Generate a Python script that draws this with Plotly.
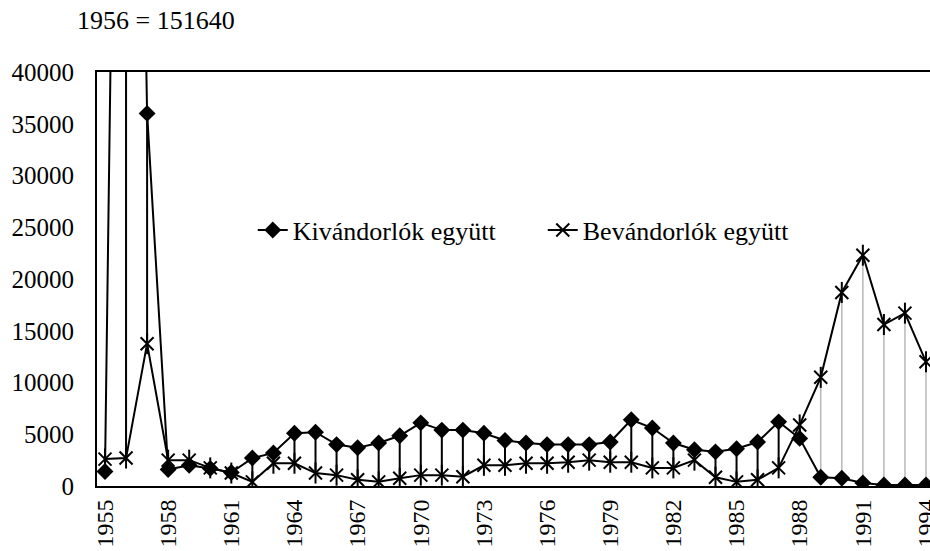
import plotly.graph_objects as go

years = list(range(1955, 1995))

# Kivándorlók együtt (emigrants)
kivandorlok = [1400, 151640, 36000, 1600, 2000, 1700, 1300, 2700, 3200, 5100,
               5200, 4000, 3700, 4150, 4850, 6100, 5400, 5400, 5100, 4400,
               4150, 4000, 4000, 4000, 4250, 6400, 5600, 4150, 3500, 3300,
               3600, 4250, 6200, 4600, 850, 750, 300, 100, 100, 100]

# Bevándorlók együtt (immigrants)
bevandorlok = [2600, 2700, 13750, 2500, 2500, 1750, 1250, 400, 2200, 2200,
               1250, 1050, 600, 400, 750, 1050, 1050, 900, 2000, 2000,
               2200, 2200, 2300, 2500, 2300, 2300, 1750, 1750, 2500, 850,
               400, 600, 1750, 5900, 10500, 18700, 22300, 15600, 16700, 12000]

tick_years = list(range(1955, 1995, 3))
FONT = "Liberation Serif"

# high-low lines between the two series
hx_dark, hy_dark, hx_light, hy_light = [], [], [], []
for yr, a, b in zip(years, kivandorlok, bevandorlok):
    if yr < 1989:
        hx_dark += [yr, yr, None]
        hy_dark += [min(a, b), max(a, b), None]
    else:
        hx_light += [yr, yr, None]
        hy_light += [min(a, b), max(a, b), None]

fig = go.Figure()
fig.add_trace(go.Scatter(x=hx_dark, y=hy_dark, mode="lines",
                         line=dict(color="black", width=2), showlegend=False, hoverinfo="skip"))
fig.add_trace(go.Scatter(x=hx_light, y=hy_light, mode="lines",
                         line=dict(color="#b8b8b8", width=1.5), showlegend=False, hoverinfo="skip"))

fig.add_trace(go.Scatter(x=years, y=kivandorlok, mode="lines+markers",
                         name="Kivándorlók együtt",
                         line=dict(color="black", width=2),
                         marker=dict(symbol="diamond", size=13, color="black")))
fig.add_trace(go.Scatter(x=years, y=bevandorlok, mode="lines+markers",
                         name="Bevándorlók együtt",
                         line=dict(color="black", width=2),
                         marker=dict(symbol="x-thin-open", size=13, color="black",
                                     line=dict(color="black", width=2))))
# vertical arm of the star marker
fig.add_trace(go.Scatter(x=years, y=bevandorlok, mode="markers", showlegend=False,
                         marker=dict(symbol="line-ns-open", size=15, color="black",
                                     line=dict(color="black", width=2)),
                         hoverinfo="skip"))

fig.add_annotation(text="1956 = 151640", xref="paper", yref="paper",
                   x=-0.0264, y=1.1256, xanchor="left", yanchor="middle",
                   showarrow=False, font=dict(family=FONT, size=26, color="black"))

fig.update_layout(
    width=930, height=551,
    margin=dict(l=97, r=0, t=72, b=65),
    paper_bgcolor="white", plot_bgcolor="white",
    font=dict(family=FONT, size=25, color="black"),
    legend=dict(orientation="h", x=0.187, y=0.618, xanchor="left", yanchor="middle",
                bgcolor="rgba(0,0,0,0)", font=dict(family=FONT, size=26),
                entrywidth=245),
    showlegend=True,
)
fig.update_xaxes(range=[1954.62, 1994.19], tickvals=tick_years,
                 ticktext=[str(t) for t in tick_years], tickangle=-90,
                 tickfont=dict(size=24), ticklabelstandoff=2, ticklabeloverflow="allow",
                 automargin=False,
                 showgrid=False, zeroline=False, showline=True, mirror=True,
                 linecolor="black", linewidth=2, ticks="")
fig.update_yaxes(range=[0, 40000], tickvals=list(range(0, 40001, 5000)), tickformat="d",
                 automargin=False,
                 showgrid=False, zeroline=False, showline=True,
                 linecolor="black", linewidth=2, ticks="", ticklabelstandoff=16)

# drop the default page margin so the figure sits at the window's corner
fig.write_html("out.html", config={"displayModeBar": False}, post_script=(
    "document.body.style.margin='0';document.body.style.overflow='hidden';"
    "Plotly.relayout('{plot_id}', {width: 930, height: 551});"))
